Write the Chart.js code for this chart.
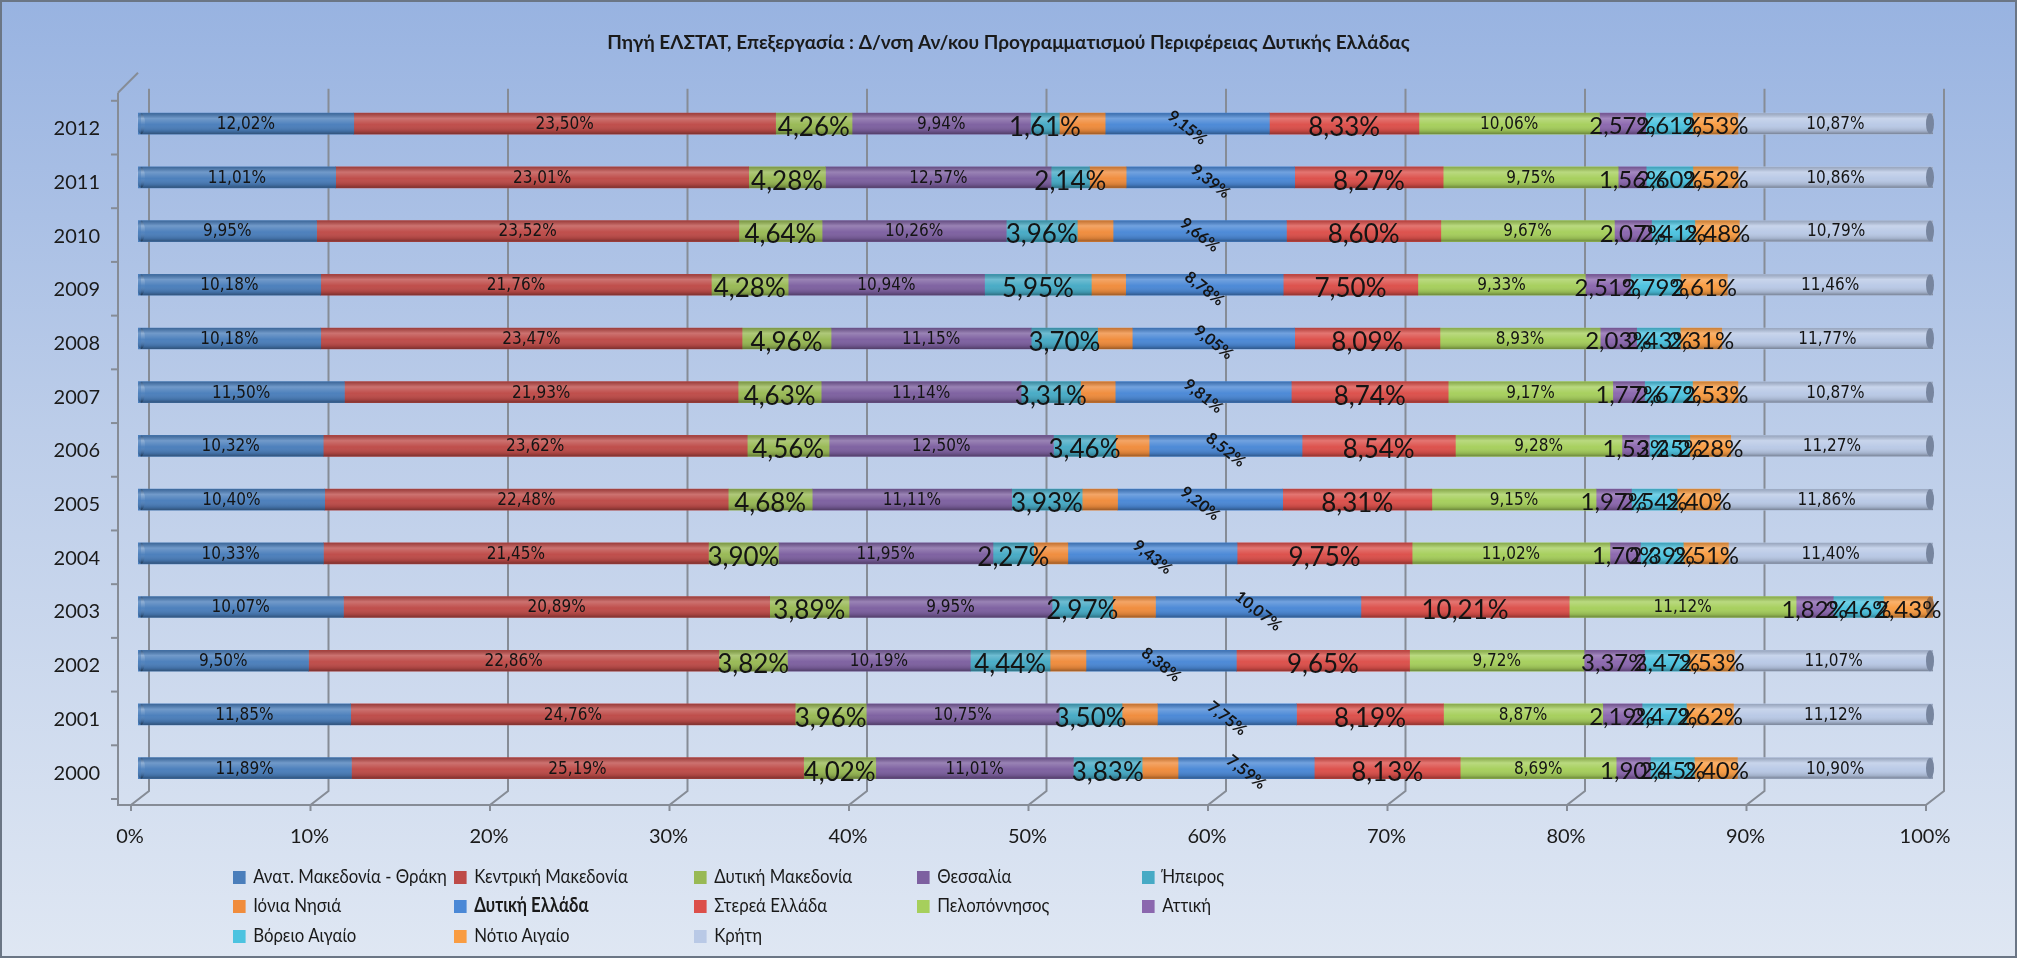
<!DOCTYPE html>
<html lang="el">
<head>
<meta charset="utf-8">
<title>Περιφέρειες - ποσοστά</title>
<script src="https://cdn.jsdelivr.net/npm/chart.js@4.4.1/dist/chart.umd.min.js"></script>
<style>
    html, body { margin: 0; padding: 0; }
    #cadre {
        position: relative; width: 2017px; height: 958px; overflow: hidden;
        background: linear-gradient(to bottom, #98b3e1 0%, #bccde9 45%, #dfe7f3 100%);
    }
    #cadre::after {
        content: ''; position: absolute; left: 0; top: 0; right: 0; bottom: 0;
        border: 2px solid #6b7685; pointer-events: none;
    }
    #canvas-diagramme { position: absolute; left: 0; top: 0; }
    .legende-item {
        position: absolute; white-space: nowrap; color: #1a1a1a;
        font: 20px Lato, Roboto, sans-serif; line-height: 24px;
        transform: scaleX(0.84); transform-origin: left center;
    }
    .legende-item .carre {
        display: inline-block; width: 15px; height: 13px; margin-right: 9px;
        vertical-align: -1px;
    }
</style>
</head>
<body>
<div id="cadre">
    <canvas id="canvas-diagramme" width="2017" height="958"></canvas>
</div>
<script>
'use strict';

/* global Chart */

const annees = ['2000', '2001', '2002', '2003', '2004', '2005', '2006', '2007', '2008', '2009', '2010', '2011', '2012'];

const regions = ['Ανατ. Μακεδονία - Θράκη', 'Κεντρική Μακεδονία', 'Δυτική Μακεδονία', 'Θεσσαλία', 'Ήπειρος',
    'Ιόνια Νησιά', 'Δυτική Ελλάδα', 'Στερεά Ελλάδα', 'Πελοπόννησος', 'Αττική',
    'Βόρειο Αιγαίο', 'Νότιο Αιγαίο', 'Κρήτη'];

// valeurs en %, de 2000 à 2012
const anatMakThraki = [11.89, 11.85, 9.50, 10.07, 10.33, 10.40, 10.32, 11.50, 10.18, 10.18, 9.95, 11.01, 12.02];
const kentrikiMak = [25.19, 24.76, 22.86, 20.89, 21.45, 22.48, 23.62, 21.93, 23.47, 21.76, 23.52, 23.01, 23.50];
const dytikiMak = [4.02, 3.96, 3.82, 3.89, 3.90, 4.68, 4.56, 4.63, 4.96, 4.28, 4.64, 4.28, 4.26];
const thessalia = [11.01, 10.75, 10.19, 9.95, 11.95, 11.11, 12.50, 11.14, 11.15, 10.94, 10.26, 12.57, 9.94];
const ipeiros = [3.83, 3.50, 4.44, 2.97, 2.27, 3.93, 3.46, 3.31, 3.70, 5.95, 3.96, 2.14, 1.61];
const ioniaNisia = [2.00, 1.97, 2.00, 2.10, 1.90, 1.97, 1.87, 1.93, 1.93, 1.91, 1.99, 2.04, 2.55];
const dytikiEllada = [7.59, 7.75, 8.38, 10.07, 9.43, 9.20, 8.52, 9.81, 9.05, 8.78, 9.66, 9.39, 9.15];
const stereaEllada = [8.13, 8.19, 9.65, 10.21, 9.75, 8.31, 8.54, 8.74, 8.09, 7.50, 8.60, 8.27, 8.33];
const peloponnisos = [8.69, 8.87, 9.72, 11.12, 11.02, 9.15, 9.28, 9.17, 8.93, 9.33, 9.67, 9.75, 10.06];
const attiki = [1.90, 2.19, 3.37, 1.82, 1.70, 1.97, 1.53, 1.77, 2.03, 2.51, 2.07, 1.56, 2.57];
const voreioAigaio = [2.45, 2.47, 2.47, 2.46, 2.39, 2.54, 2.25, 2.67, 2.43, 2.79, 2.41, 2.60, 2.61];
const notioAigaio = [2.40, 2.62, 2.53, 2.43, 2.51, 2.40, 2.28, 2.53, 2.31, 2.61, 2.48, 2.52, 2.53];
const kriti = [10.90, 11.12, 11.07, 0, 11.40, 11.86, 11.27, 10.87, 11.77, 11.46, 10.79, 10.86, 10.87];

const ticksX = ['0%', '10%', '20%', '30%', '40%', '50%', '60%', '70%', '80%', '90%', '100%'];

const titre = 'Πηγή ΕΛΣΤΑΤ, Επεξεργασία : Δ/νση Αν/κου Προγραμματισμού Περιφέρειας Δυτικής Ελλάδας';

const couleurs = ['#4a7ebb', '#be4b48', '#98b954', '#7d60a0', '#46aac5', '#f08c3c', '#4a88d6',
    '#dc4f4a', '#a6cf5c', '#8b67ae', '#4cc3e0', '#f99c42', '#b9c9e6'];

const police = 'Lato, Roboto, sans-serif';
const policeEtroite = '"Liberation Sans Narrow", "DejaVu Sans Condensed", sans-serif';

// style des étiquettes par série (null = pas d'étiquette)
const stylesEtiq = [
    { font: '17px ' + policeEtroite, dy: 1 },
    { font: '17px ' + policeEtroite, dy: 1 },
    { font: '26px ' + police, dy: 4 },
    { font: '17px ' + policeEtroite, dy: 1 },
    { font: '26px ' + police, dy: 4 },
    null,
    { font: 'bold 16px ' + police, dy: 4, rot: 38 },
    { font: '26px ' + police, dy: 4 },
    { font: '17px ' + policeEtroite, dy: 1 },
    { font: '24px ' + police, dy: 3 },
    { font: '24px ' + police, dy: 3 },
    { font: '24px ' + police, dy: 3 },
    { font: '17px ' + policeEtroite, dy: 1 }
];

document.addEventListener('DOMContentLoaded', function () {
    const ctx = document.getElementById('canvas-diagramme').getContext('2d');

    const series = [anatMakThraki, kentrikiMak, dytikiMak, thessalia, ipeiros, ioniaNisia, dytikiEllada,
        stereaEllada, peloponnisos, attiki, voreioAigaio, notioAigaio, kriti];

    // barres à 100% : chaque année est ramenée à son total
    let totaux = annees.map((a, j) => series.reduce((s, serie) => s + serie[j], 0));

    const datasets = series.map((serie, i) => ({
        label: regions[i],
        data: serie.map((v, j) => v / totaux[j] * 100),
        brut: serie,
        backgroundColor: couleurs[i],
        borderWidth: 0,
        barThickness: 21
    }));

    // Ombrage "cylindre", bout de barre et étiquettes
    const pluginBarres = {
        id: 'barres3d',
        afterDatasetsDraw(chart) {
            const c = chart.ctx;
            const nb = chart.data.datasets.length;
            const metaFin = chart.getDatasetMeta(nb - 1);
            const metaDeb = chart.getDatasetMeta(0);
            c.save();
            metaFin.data.forEach((bar, j) => {
                const p = bar.getProps(['x', 'y', 'height'], true);
                const debut = metaDeb.data[j].getProps(['base'], true).base;
                const h = p.height;
                const g = c.createLinearGradient(0, p.y - h / 2, 0, p.y + h / 2);
                g.addColorStop(0, 'rgba(0,0,0,0.18)');
                g.addColorStop(0.25, 'rgba(255,255,255,0.22)');
                g.addColorStop(0.55, 'rgba(255,255,255,0.02)');
                g.addColorStop(0.85, 'rgba(0,0,0,0.12)');
                g.addColorStop(1, 'rgba(0,0,0,0.35)');
                c.fillStyle = g;
                c.beginPath();
                c.ellipse(debut + 3, p.y, 4, h / 2, 0, 0, Math.PI * 2);
                c.fill();
                c.fillRect(debut + 3, p.y - h / 2, p.x - debut - 3, h);
                // bout arrondi, couleur de la dernière série non nulle
                let k = nb - 1;
                while (k > 0 && !series[k][j]) {
                    k--;
                }
                c.fillStyle = couleurs[k];
                c.beginPath();
                c.ellipse(p.x - 3, p.y, 4, h / 2, 0, 0, Math.PI * 2);
                c.fill();
                c.fillStyle = 'rgba(40,50,70,0.45)';
                c.fill();
            });

            c.fillStyle = '#141414';
            c.textAlign = 'center';
            c.textBaseline = 'middle';
            chart.data.datasets.forEach((ds, i) => {
                const st = stylesEtiq[i];
                if (!st) {
                    return;
                }
                c.font = st.font;
                chart.getDatasetMeta(i).data.forEach((bar, j) => {
                    const v = ds.brut[j];
                    if (!v) {
                        return;
                    }
                    const p = bar.getProps(['x', 'y', 'base'], true);
                    const texte = v.toFixed(2).replace('.', ',') + '%';
                    const cx = (p.x + p.base) / 2;
                    const cy = p.y + st.dy;
                    if (st.rot) {
                        c.save();
                        c.translate(cx, cy);
                        c.rotate(st.rot * Math.PI / 180);
                        c.fillText(texte, 0, 0);
                        c.restore();
                    } else {
                        c.fillText(texte, cx, cy);
                    }
                });
            });
            c.restore();
        }
    };

    // Grille et axes façon 3D (mur du fond + sol)
    const pluginGrille = {
        id: 'grille3d',
        beforeDatasetsDraw(chart) {
            const c = chart.ctx;
            const aire = chart.chartArea;
            const sx = chart.scales.x;
            const sy = chart.scales.y;
            c.save();
            c.strokeStyle = '#868c96';
            c.lineWidth = 2;
            const sol = aire.bottom + 10;
            for (let v = 0; v <= 100; v += 10) {
                const xv = sx.getPixelForValue(v);
                c.beginPath();
                c.moveTo(xv + 11, aire.top - 8);
                c.lineTo(xv + 11, aire.bottom - 4);
                c.lineTo(xv - 7, sol);
                c.lineTo(xv - 7, sol + 6);
                c.stroke();
            }
            // axe vertical + sol
            const x0 = aire.left - 20;
            c.beginPath();
            c.moveTo(x0, aire.top - 4);
            c.lineTo(x0, sol);
            c.lineTo(sx.getPixelForValue(100) - 7, sol);
            c.stroke();
            c.beginPath();
            c.moveTo(x0, aire.top - 4);
            c.lineTo(x0 + 20, aire.top - 24);
            c.stroke();
            for (let j = 0; j <= annees.length; j++) {
                const y = sy.getPixelForValue(j - 0.5);
                c.beginPath();
                c.moveTo(x0 - 7, y + 4);
                c.lineTo(x0, y + 4);
                c.stroke();
            }
            c.restore();
        }
    };

    const dataChartJs = {
        labels: annees,
        datasets: datasets
    };

    // Les options du diagramme.
    const optionsChartJs = {
        indexAxis: 'y',
        responsive: false,
        animation: false,
        layout: { padding: { top: 31, right: 0, left: 0, bottom: 0 } },
        plugins: {
            legend: { display: false },
            tooltip: { enabled: false },
            title: {
                display: true,
                text: titre,
                color: '#1a1a1a',
                font: { family: police, size: 19, weight: 'bold' },
                padding: { top: 0, bottom: 43 }
            }
        },
        scales: {
            x: {
                stacked: true,
                min: 0,
                max: 100,
                grid: { display: false, drawTicks: false },
                border: { display: false },
                ticks: {
                    stepSize: 10,
                    padding: 30,
                    labelOffset: -8,
                    color: '#1a1a1a',
                    font: { family: police, size: 20 },
                    callback: function (v, idx) { return ticksX[idx]; }
                },
                afterFit: function (scale) { scale.height = 163; }
            },
            y: {
                stacked: true,
                reverse: true,
                grid: { display: false, drawTicks: false },
                border: { display: false },
                ticks: {
                    padding: 38,
                    labelOffset: 5,
                    color: '#1a1a1a',
                    font: { family: police, size: 20 }
                },
                afterFit: function (scale) { scale.width = 138; }
            },
            // axe vide à droite : réserve la marge sans décentrer le titre
            yDroite: {
                type: 'category',
                axis: 'y',
                position: 'right',
                grid: { display: false, drawTicks: false },
                border: { display: false },
                ticks: { display: false },
                afterFit: function (scale) { scale.width = 84; }
            }
        }
    };

    // eslint-disable-next-line no-unused-vars
    let diagChartJs = new Chart(ctx, {
        type: 'bar',
        data: dataChartJs,
        options: optionsChartJs,
        plugins: [pluginGrille, pluginBarres]
    });

    // Légende en grille (5 colonnes)
    const colonnes = [233, 454, 694, 917, 1142];
    const lignes = [863, 892, 922];
    const cadre = document.getElementById('cadre');
    regions.forEach((nom, i) => {
        const item = document.createElement('div');
        item.className = 'legende-item';
        item.style.left = colonnes[i % 5] + 'px';
        item.style.top = lignes[Math.floor(i / 5)] + 'px';
        if (i === 6) {
            item.style.fontWeight = 'bold';
        }
        const carre = document.createElement('span');
        carre.className = 'carre';
        carre.style.background = couleurs[i];
        item.appendChild(carre);
        item.appendChild(document.createTextNode(nom));
        cadre.appendChild(item);
    });
});
</script>
</body>
</html>
